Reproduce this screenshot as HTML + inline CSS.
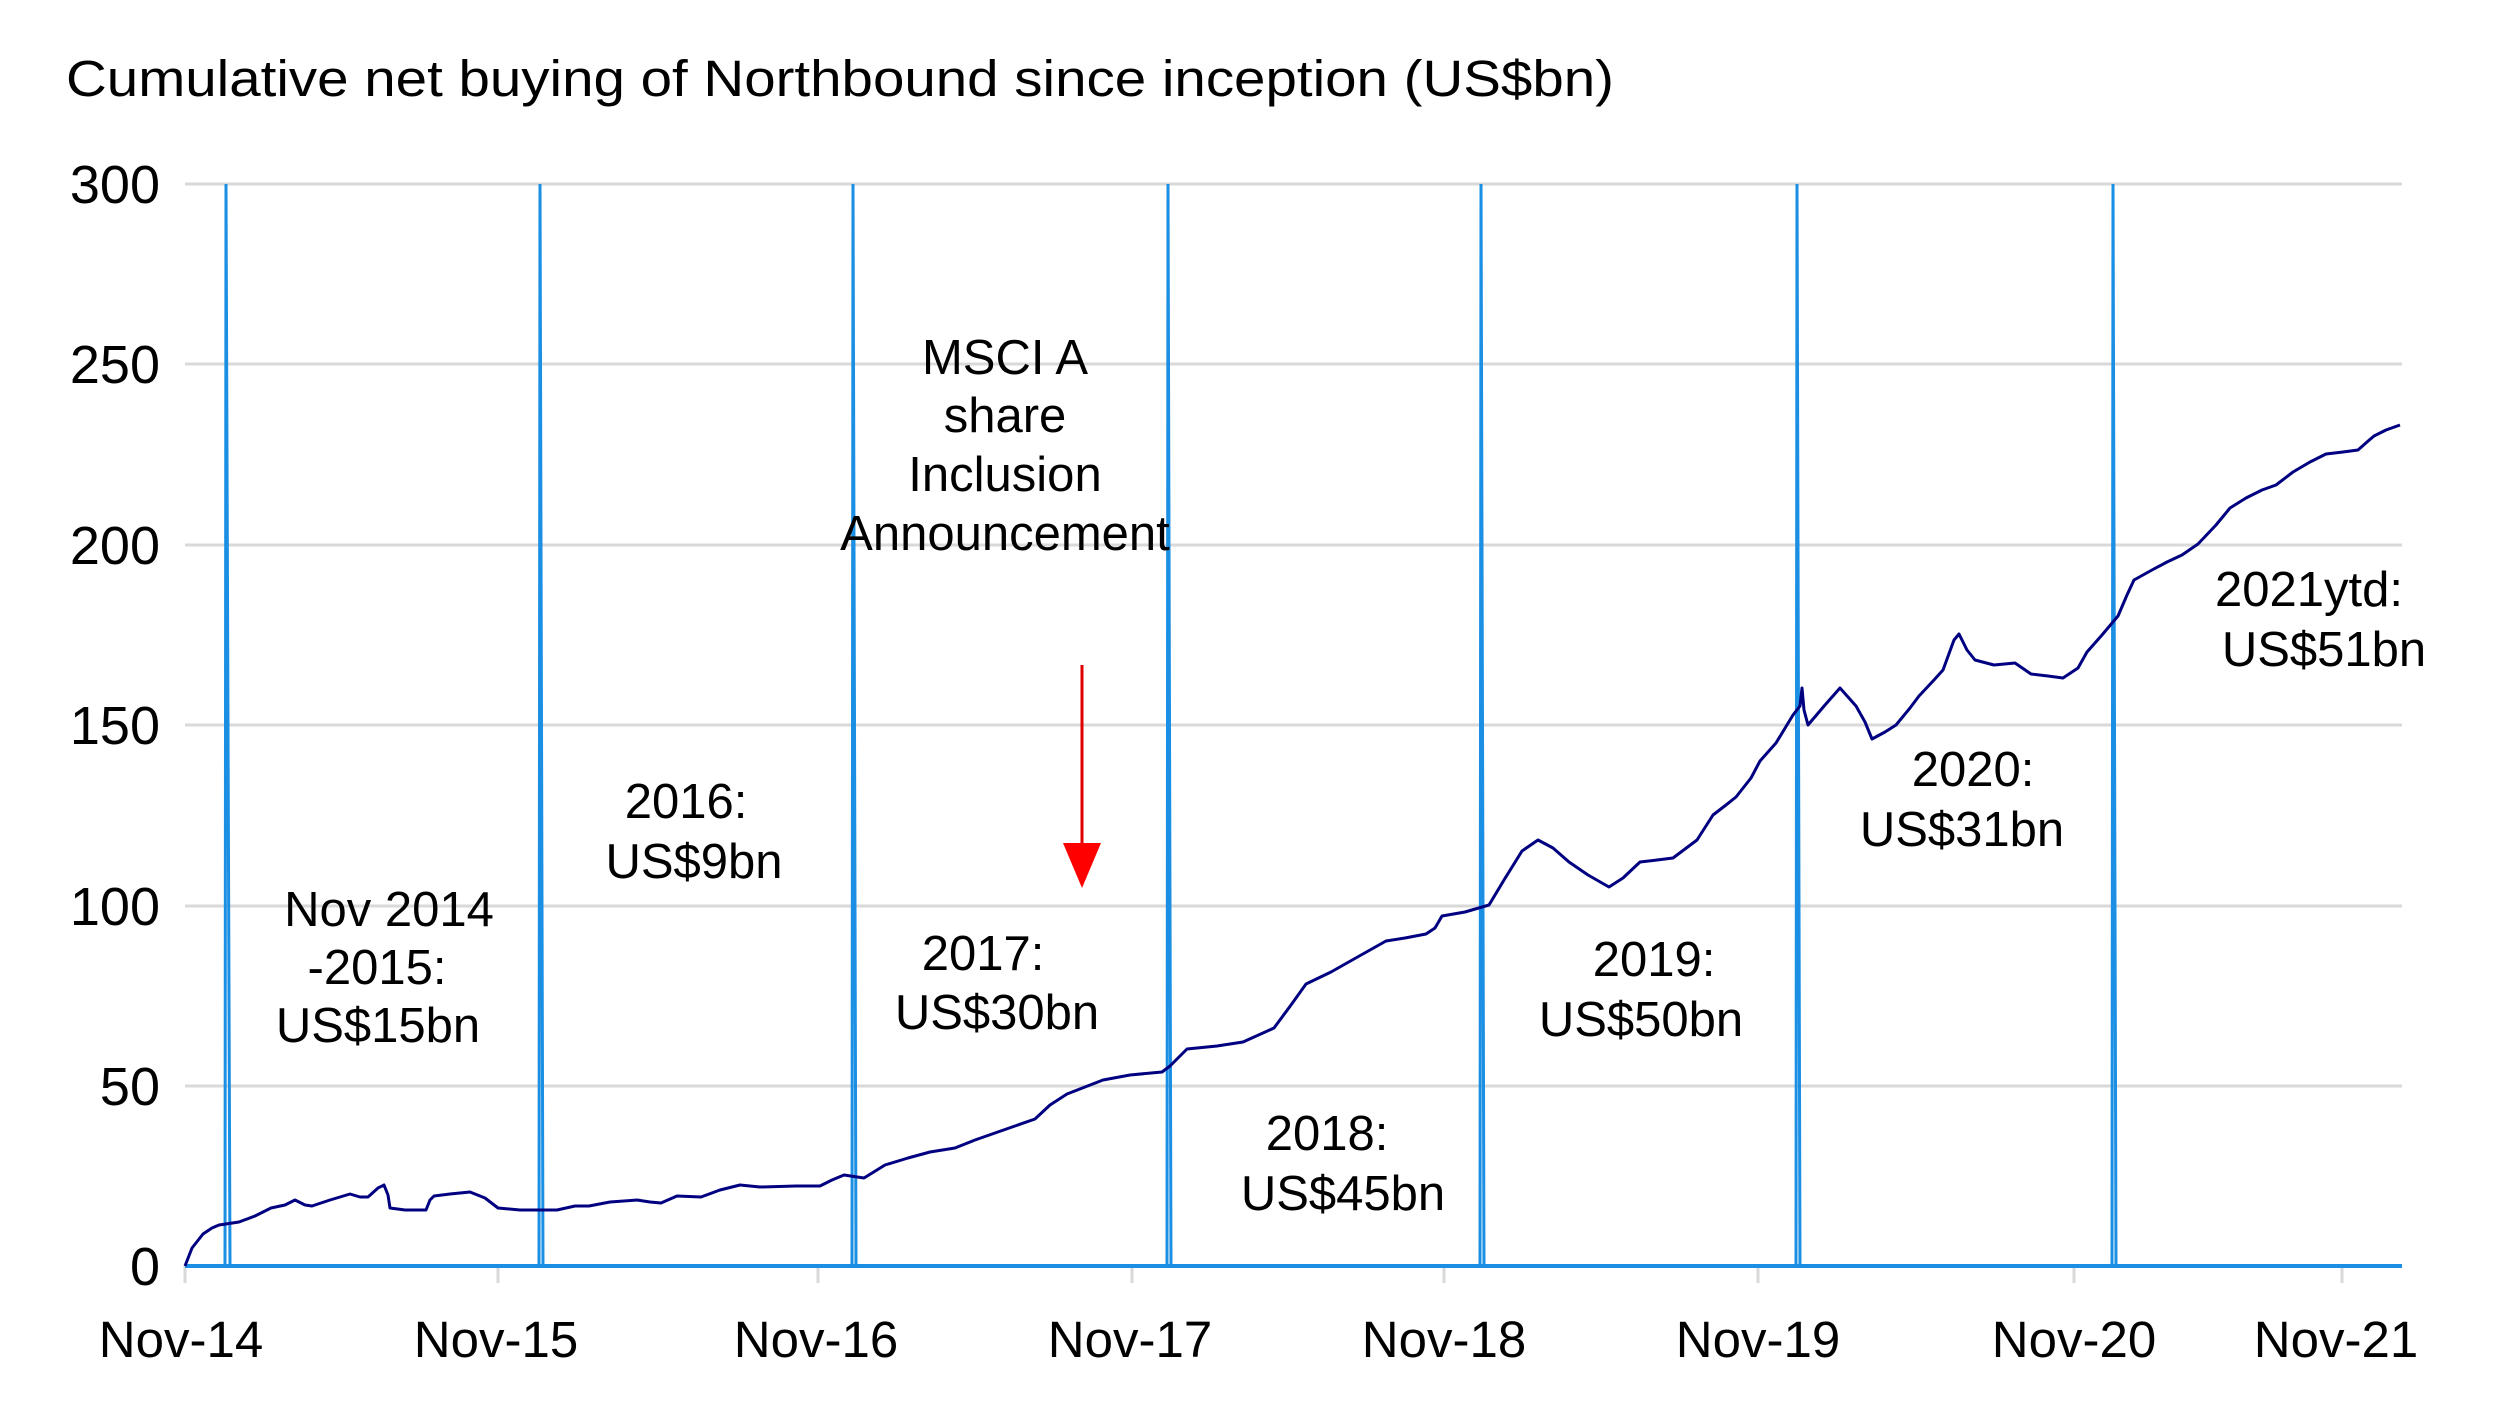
<!DOCTYPE html>
<html><head><meta charset="utf-8"><style>
html,body{margin:0;padding:0;background:#fff;}
svg{display:block;font-family:"Liberation Sans",Arial,sans-serif;}
</style></head><body>
<svg width="2496" height="1404" viewBox="0 0 2496 1404" xmlns="http://www.w3.org/2000/svg">
<rect width="2496" height="1404" fill="#fff"/>
<text x="66" y="96" font-size="51" fill="#000" textLength="1548" lengthAdjust="spacingAndGlyphs">Cumulative net buying of Northbound since inception (US$bn)</text>
<g stroke="#d9d9d9" stroke-width="3">
<line x1="185" y1="184" x2="2402" y2="184"/>
<line x1="185" y1="364" x2="2402" y2="364"/>
<line x1="185" y1="545" x2="2402" y2="545"/>
<line x1="185" y1="725" x2="2402" y2="725"/>
<line x1="185" y1="906" x2="2402" y2="906"/>
<line x1="185" y1="1086" x2="2402" y2="1086"/>
<line x1="185" y1="1266" x2="185" y2="1283"/>
<line x1="498" y1="1266" x2="498" y2="1283"/>
<line x1="818" y1="1266" x2="818" y2="1283"/>
<line x1="1132" y1="1266" x2="1132" y2="1283"/>
<line x1="1444" y1="1266" x2="1444" y2="1283"/>
<line x1="1758" y1="1266" x2="1758" y2="1283"/>
<line x1="2074" y1="1266" x2="2074" y2="1283"/>
<line x1="2342" y1="1266" x2="2342" y2="1283"/>
</g>
<g font-size="54" text-anchor="end" fill="#000">
<text x="160" y="203">300</text><text x="160" y="383">250</text><text x="160" y="564">200</text>
<text x="160" y="744">150</text><text x="160" y="925">100</text><text x="160" y="1105">50</text><text x="160" y="1285">0</text>
</g>
<g font-size="51" text-anchor="middle" fill="#000">
<text x="181" y="1357">Nov-14</text><text x="496" y="1357">Nov-15</text><text x="816" y="1357">Nov-16</text>
<text x="1130" y="1357">Nov-17</text><text x="1444" y="1357">Nov-18</text><text x="1758" y="1357">Nov-19</text>
<text x="2074" y="1357">Nov-20</text><text x="2336" y="1357">Nov-21</text>
</g>
<g stroke="#1a8fe3" stroke-width="3" fill="none">
<line x1="185" y1="1266" x2="2402" y2="1266" stroke-width="4"/>
<polyline points="225,1266 226,184 230,1266"/>
<polyline points="539,1266 540,184 543,1266"/>
<polyline points="852,1266 853,184 856,1266"/>
<polyline points="1167,1266 1168,184 1171,1266"/>
<polyline points="1480,1266 1481,184 1484,1266"/>
<polyline points="1796,1266 1797,184 1800,1266"/>
<polyline points="2112,1266 2113,184 2116,1266"/>
</g>
<polyline fill="none" stroke="#000080" stroke-width="3" stroke-linejoin="round" points="
185,1266 192,1248 203,1234 212,1228 219,1225 239,1222 255,1216 271,1208 285,1205 295,1200 305,1205 312,1206 330,1200 350,1194 360,1197 368,1197 378,1188 384,1185 388,1195 390,1208 405,1210 426,1210 430,1200 434,1196 450,1194 470,1192 485,1198 498,1208 520,1210 557,1210 575,1206 589,1206 610,1202 637,1200 650,1202 661,1203 677,1196 701,1197 720,1190 740,1185 760,1187 796,1186 820,1186 832,1180 844,1175 864,1178 885,1165 908,1158 930,1152 955,1148 975,1140 995,1133 1015,1126 1035,1119 1050,1105 1067,1094 1085,1087 1103,1080 1130,1075 1162,1072 1170,1066 1187,1049 1217,1046 1243,1042 1274,1028 1291,1005 1306,984 1331,972 1354,959 1386,941 1405,938 1426,934 1435,928 1442,916 1465,912 1489,905 1504,880 1522,851 1538,840 1553,848 1569,862 1588,875 1609,887 1623,878 1640,862 1657,860 1673,858 1697,840 1713,815 1726,805 1736,797 1751,778 1760,761 1776,743 1793,715 1800,706 1802,688 1804,710 1808,725 1825,705 1840,688 1856,706 1865,722 1872,739 1885,732 1896,725 1910,708 1919,696 1934,680 1943,670 1954,640 1959,634 1967,650 1975,660 1994,665 2015,663 2031,674 2048,676 2063,678 2078,668 2087,652 2102,635 2118,616 2127,595 2134,580 2152,570 2167,562 2182,555 2198,544 2216,525 2230,508 2246,498 2262,490 2276,485 2293,472 2310,462 2326,454 2343,452 2358,450 2367,442 2374,436 2386,430 2400,425"/>
<line x1="1082" y1="665" x2="1082" y2="845" stroke="#e00000" stroke-width="3"/>
<polygon points="1063,843 1101,843 1082,888" fill="#ff0000"/>
<g font-size="49" text-anchor="middle" fill="#000">
<text x="1005" y="374">MSCI A</text><text x="1005" y="432">share</text><text x="1005" y="491">Inclusion</text><text x="1005" y="550">Announcement</text>
<text x="389" y="926">Nov 2014</text><text x="377" y="984">-2015:</text><text x="378" y="1042">US$15bn</text>
<text x="686" y="818">2016:</text><text x="694" y="878">US$9bn</text>
<text x="983" y="970">2017:</text><text x="997" y="1029">US$30bn</text>
<text x="1327" y="1150">2018:</text><text x="1343" y="1210">US$45bn</text>
<text x="1654" y="976">2019:</text><text x="1641" y="1036">US$50bn</text>
<text x="1973" y="786">2020:</text><text x="1962" y="846">US$31bn</text>
<text x="2309" y="606">2021ytd:</text><text x="2324" y="666">US$51bn</text>
</g>
</svg>
</body></html>
